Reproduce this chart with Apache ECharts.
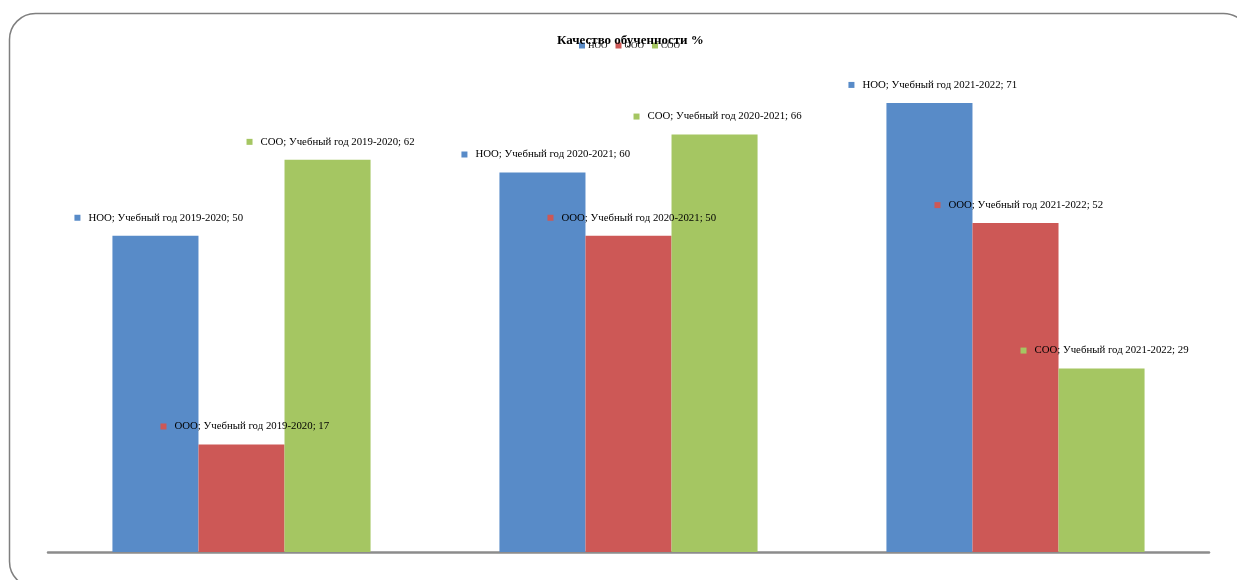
<!DOCTYPE html>
<html>
<head>
<meta charset="utf-8">
<script src="https://cdn.jsdelivr.net/npm/echarts@6/dist/echarts.min.js"></script>
<style>
html,body{margin:0;padding:0;background:#fff;}
#main{width:1237px;height:580px;}
</style>
</head>
<body>
<div id="main"></div>
<script>
const categories = ['Учебный год 2019-2020', 'Учебный год 2020-2021', 'Учебный год 2021-2022'];
const seriesNames = ['НОО', 'ООО', 'СОО'];
const nooValues = [50, 60, 71];
const oooValues = [17, 50, 52];
const sooValues = [62, 66, 29];
const colors = ['#588BC8', '#CD5856', '#A5C662'];

const chart = echarts.init(document.getElementById('main'));
const valuesList = [nooValues, oooValues, sooValues];

const series = seriesNames.map((name, i) => ({
  name: name,
  type: 'bar',
  data: valuesList[i],
  barGap: '0%',
  barCategoryGap: '33.3%',
  itemStyle: { color: colors[i] },
  label: {
    show: true,
    position: [-38, -18],
    align: 'left',
    verticalAlign: 'middle',
    formatter: p => '{m|}{t|' + p.seriesName + '; ' + p.name + '; ' + p.value + '}',
    rich: {
      m: { width: 6, height: 6, backgroundColor: colors[i] },
      t: { fontFamily: 'Liberation Serif', fontSize: 10.8, color: '#000', padding: [0, 0, 0, 8] }
    }
  }
}));

chart.setOption({
  animation: false,
  graphic: [{
    type: 'rect',
    left: 7, top: 11,
    shape: { width: 1240, height: 574, r: 26 },
    style: { fill: 'none', stroke: '#7f7f7f', lineWidth: 1.5 },
    z: -1
  }],
  title: {
    text: 'Качество обученности %',
    left: 552,
    top: 29,
    textStyle: { fontFamily: 'Liberation Serif', fontSize: 13, fontWeight: 'bold', color: '#000' }
  },
  legend: {
    data: seriesNames,
    left: 574,
    top: 36,
    itemWidth: 6,
    itemHeight: 6,
    itemGap: 8,
    icon: 'rect',
    textStyle: { fontFamily: 'Liberation Serif', fontSize: 9, color: '#000', padding: [0, 0, 0, -2] }
  },
  grid: { left: 48, right: 28, top: 46, bottom: 28, containLabel: false },
  xAxis: {
    type: 'category',
    data: categories,
    axisLine: { lineStyle: { color: '#8c8c8c', width: 2.5 } },
    axisTick: { show: false },
    axisLabel: { show: false }
  },
  yAxis: {
    type: 'value',
    min: 0, max: 80,
    show: false,
    splitLine: { show: false }
  },
  series: series
});
</script>
</body>
</html>
